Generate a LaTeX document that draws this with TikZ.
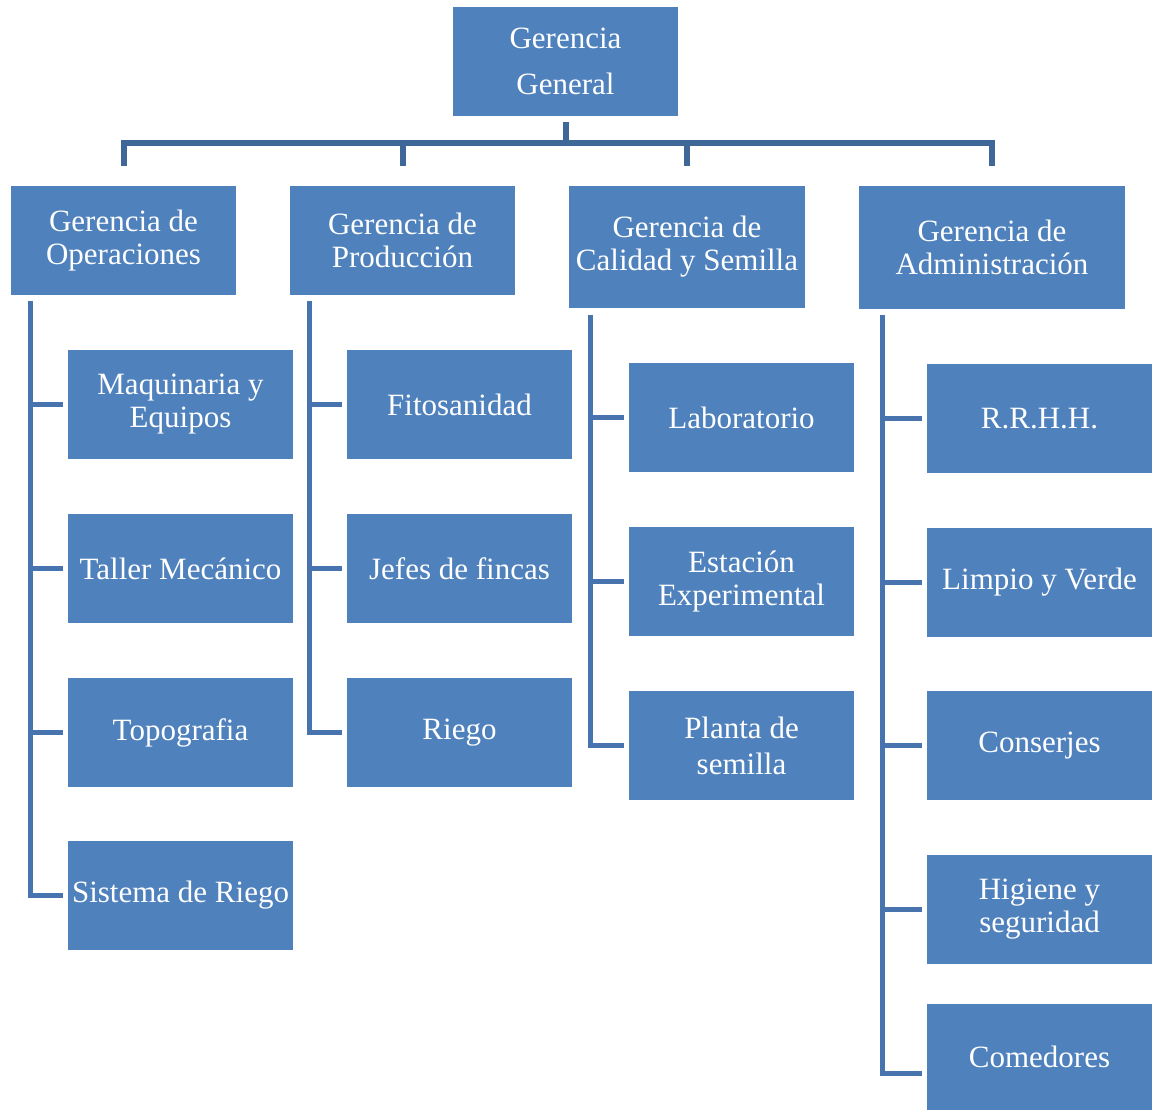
\documentclass[tikz,border=0pt]{standalone}
\usepackage{fontspec}
\setmainfont{Liberation Serif}
\definecolor{boxblue}{HTML}{4F81BD}
\definecolor{busblue}{HTML}{3F6899}
\definecolor{sideblue}{HTML}{4774AE}

\begin{document}
\begin{tikzpicture}[x=1pt, y=-1pt,
    unit/.style={fill=boxblue, text=white, minimum width=225pt, minimum height=109pt, inner sep=0pt, align=center, font=\fontsize{31}{33}\selectfont},
    bus/.style={draw=busblue, line width=6pt},
    side/.style={draw=sideblue, line width=5pt}]
        \useasboundingbox (0,0) rectangle (1159,1110);

        % Gerencia general
        \node[unit, font=\fontsize{31}{46}\selectfont] (gg) at (565.5,61.5) {Gerencia\\General};

        % Second level
        \def\y{240.5}
        \node[unit] (op) at (123.5,\y) {Gerencia de\\Operaciones};
        \node[unit] (pr) at (402.5,\y) {Gerencia de\\Producción};
        \node[unit, minimum width=236pt, minimum height=122pt] (ca) at (687,\y+6.5) {Gerencia de\\Calidad y Semilla};
        \node[unit, minimum width=266pt, minimum height=123pt] (ad) at (992,\y+7) {Gerencia de\\Administración};

        % Bus
        \coordinate (bus) at ([yshift=-27pt]gg.south);
        \draw[bus, shorten <=6pt] (gg.south) -- (bus);
        \draw[bus, shorten <=20pt, shorten >=20pt] (op.north) -- (op.north |- bus) -- (ad.north |- bus) -- (ad.north);
        \draw[bus, shorten >=20pt] (bus -| pr.north) -- (pr.north);
        \draw[bus, shorten >=20pt] (bus -| ca.north) -- (ca.north);

        % Operaciones
        \def\x{180.5}
        \node[unit] (o1) at (\x,404.5) {Maquinaria y\\Equipos};
        \node[unit] (o2) at (\x,568.5) {Taller Mecánico};
        \node[unit] (o3) at (\x,732.5) {Topografia};
        \node[unit] (o4) at (\x,895.5) {Sistema de Riego};
        \coordinate (opv) at ([xshift=20pt,yshift=-6pt]op.south west);
        \foreach \c in {o1,o2,o3,o4}
            \draw[side, shorten >=5pt] (opv) |- (\c.west);

        % Produccion
        \def\x{459.5}
        \node[unit] (p1) at (\x,404.5) {Fitosanidad};
        \node[unit] (p2) at (\x,568.5) {Jefes de fincas};
        \node[unit] (p3) at (\x,732.5) {Riego};
        \coordinate (prv) at ([xshift=20pt,yshift=-6pt]pr.south west);
        \foreach \c in {p1,p2,p3}
            \draw[side, shorten >=5pt] (prv) |- (\c.west);

        % Calidad y semilla
        \def\x{741.5}
        \node[unit] (c1) at (\x,417.5) {Laboratorio};
        \node[unit] (c2) at (\x,581.5) {Estación\\Experimental};
        \node[unit, font=\fontsize{31}{36}\selectfont] (c3) at (\x,745.5) {Planta de\\semilla};
        \coordinate (cav) at ([xshift=22pt,yshift=-7pt]ca.south west);
        \foreach \c in {c1,c2,c3}
            \draw[side, shorten >=5pt] (cav) |- (\c.west);

        % Administracion
        \def\x{1039.5}
        \node[unit] (a1) at (\x,418.5) {R.R.H.H.};
        \node[unit] (a2) at (\x,582.5) {Limpio y Verde};
        \node[unit] (a3) at (\x,745.5) {Conserjes};
        \node[unit] (a4) at (\x,909.5) {Higiene y\\seguridad};
        \node[unit, minimum height=106pt] (a5) at (\x,1057) {Comedores};
        \coordinate (adv) at ([xshift=24pt,yshift=-6pt]ad.south west);
        \foreach \c in {a1,a2,a3,a4}
            \draw[side, shorten >=5pt] (adv) |- (\c.west);
        \draw[side, shorten >=5pt] (adv) |- ([yshift=-16pt]a5.west);
\end{tikzpicture}
\end{document}
